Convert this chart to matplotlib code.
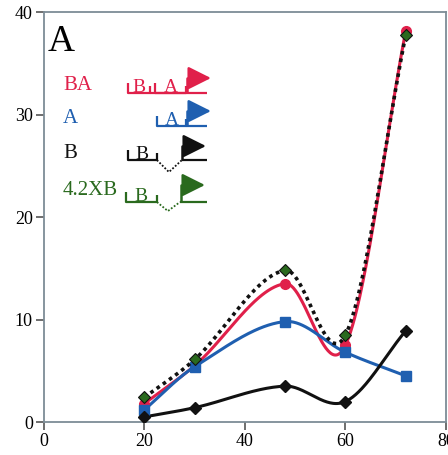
import numpy as np
import matplotlib
matplotlib.use("Agg")
from matplotlib import pyplot as plt

# time points and expression levels for each construct
hours = [20, 30, 48, 60, 72]
ba_vals = [1.8, 5.5, 13.5, 7.5, 38.2]
a_vals = [1.2, 5.4, 9.8, 6.8, 4.5]
b_vals = [0.5, 1.4, 3.5, 2.0, 8.9]
xb_vals = [2.4, 6.1, 14.8, 8.5, 37.8]

labels = ["BA", "A", "B", "4.2XB"]
colors = ["#e0204a", "#1f5fb0", "#111111", "#2a6a1e"]
xticks = [0, 20, 40, 60, 80]
yticks = [0, 10, 20, 30, 40]


def smooth(x, y, n=60):
    # Catmull-Rom style Hermite curve through the points
    x = np.asarray(x, float)
    y = np.asarray(y, float)
    k = len(x)
    d = np.zeros(k)
    d[0] = (y[1] - y[0]) / (x[1] - x[0])
    d[-1] = (y[-1] - y[-2]) / (x[-1] - x[-2])
    for i in range(1, k - 1):
        d[i] = (y[i + 1] - y[i - 1]) / (x[i + 1] - x[i - 1])
    xs_all, ys_all = [], []
    for i in range(k - 1):
        h = x[i + 1] - x[i]
        t = np.linspace(0, 1, n)
        h00 = 2 * t**3 - 3 * t**2 + 1
        h10 = t**3 - 2 * t**2 + t
        h01 = -2 * t**3 + 3 * t**2
        h11 = t**3 - t**2
        xs_all.append(x[i] + t * h)
        ys_all.append(h00 * y[i] + h10 * h * d[i] + h01 * y[i + 1] + h11 * h * d[i + 1])
    return np.concatenate(xs_all), np.concatenate(ys_all)


serif = "Liberation Serif"
fig = plt.figure(figsize=(4.48, 4.55), dpi=100)
ax = fig.add_axes([0.098, 0.0725, 0.8975, 0.901])

# curves
xs, ys = smooth(hours, ba_vals)
ax.plot(xs, ys, color=colors[0], lw=2.2, zorder=3)
ax.plot(hours, ba_vals, "o", color=colors[0], ms=7, zorder=4)

xs, ys = smooth(hours, a_vals)
ax.plot(xs, ys, color=colors[1], lw=2.2, zorder=3)
ax.plot(hours, a_vals, "s", color=colors[1], ms=7, zorder=4)

xs, ys = smooth(hours, b_vals)
ax.plot(xs, ys, color=colors[2], lw=2.2, zorder=3)
ax.plot(hours, b_vals, "D", color=colors[2], ms=6, zorder=4)

xs, ys = smooth(hours, xb_vals)
ax.plot(xs, ys, color="#111111", lw=2.6, ls=(0, (1, 1.1)), zorder=5)
ax.plot(hours, xb_vals, "D", color=colors[3], mec="#111111", mew=0.8, ms=6.5, zorder=6)

ax.set_xlim(0, 80)
ax.set_ylim(0, 40)
ax.set_xticks(xticks)
ax.set_yticks(yticks)
for s in ax.spines.values():
    s.set_color("#7d8c96")
    s.set_linewidth(1.3)
ax.tick_params(direction="out", length=6, width=1.2, color="#555555",
               labelsize=13, pad=2)
for lbl in ax.get_xticklabels() + ax.get_yticklabels():
    lbl.set_fontfamily(serif)

# panel letter
ax.text(0.01, 0.97, "A", transform=ax.transAxes, fontsize=27,
        family=serif, va="top", ha="left")


def P(px, py):
    # figure pixel -> data coords
    return ((px - 44) / 402 * 80, (422 - py) / 410 * 40)


label_pos = [(63, 85), (63, 118), (63, 153), (63, 190)]
for (px, py), t, c in zip(label_pos, labels, colors):
    ax.text(*P(px, py), t, color=c, fontsize=15, family=serif,
            va="center", ha="left")


def seg(pts, c, **kw):
    xy = np.array([P(*p) for p in pts])
    ax.plot(xy[:, 0], xy[:, 1], color=c, solid_capstyle="butt", clip_on=False, **kw)


def promoter(px, base, top, c):
    seg([(px, base), (px, top), (px + 8, top)], c, lw=1.8)
    ax.annotate("", xy=P(px + 24, top), xytext=P(px + 4, top),
                arrowprops=dict(arrowstyle="-|>,head_length=1.4,head_width=0.7",
                                color=c, lw=1.8, shrinkA=0, shrinkB=0))


def gene(x0, x1, base, letter, c):
    seg([(x0, base - 10), (x0, base), (x1, base), (x1, base - 7)], c, lw=1.6)
    ax.text(*P((x0 + x1) / 2, base - 1), letter, color=c, fontsize=14,
            family=serif, ha="center", va="baseline")


# BA
c = colors[0]
gene(128, 150, 93, "B", c)
seg([(150, 93), (207, 93)], c, lw=1.6)
gene(155, 186, 93, "A", c)
promoter(187, 93, 78, c)

# A
c = colors[1]
gene(157, 186, 126, "A", c)
seg([(186, 126), (207, 126)], c, lw=1.6)
promoter(187, 126, 111, c)

# B
c = colors[2]
gene(128, 157, 160, "B", c)
seg([(157, 160), (169, 172), (182, 160)], c, lw=1.3, ls=(0, (1, 1)))
seg([(182, 160), (207, 160)], c, lw=1.6)
promoter(182, 160, 146, c)

# 4.2XB
c = colors[3]
gene(126, 157, 202, "B", c)
seg([(157, 202), (168, 211), (180, 202)], c, lw=1.3, ls=(0, (1, 1)))
seg([(180, 202), (207, 202)], c, lw=1.6)
promoter(181, 202, 185, c)

fig.savefig("out.png", dpi=100)
